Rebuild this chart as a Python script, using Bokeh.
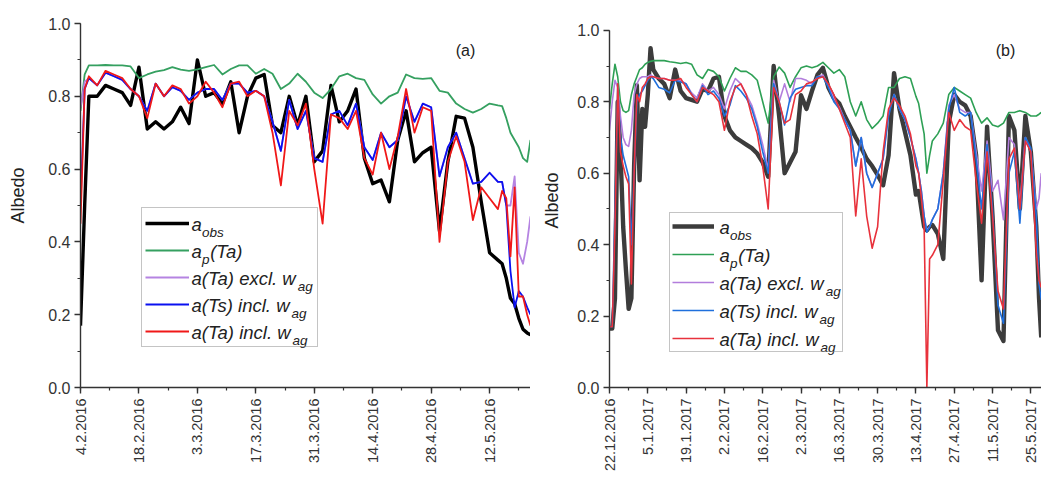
import math
from datetime import date
from bokeh.plotting import figure
from bokeh.layouts import row
from bokeh.models import (Range1d, FixedTicker, SingleIntervalTicker, PrintfTickFormatter,
                          Legend, LegendItem, Label)
from bokeh.embed import file_html
from bokeh.resources import INLINE

# ---------------- data: panel (a) ----------------
start_a = date(2016, 2, 4)
days_a = [0, 1, 2, 4, 6, 8, 10, 12, 14, 16, 18, 20, 22, 24, 26, 28, 30, 32, 34, 36, 38, 40,
          42, 44, 46, 48, 50, 52, 54, 56, 58, 60, 62, 64, 66, 68, 70, 72, 74, 76, 78, 80, 82,
          84, 86, 88, 90, 92, 94, 96, 98, 100, 101, 102, 103, 104, 105, 106, 107, 107.8]
obs_a = [0.17, 0.50, 0.80, 0.80, 0.83, 0.82, 0.81, 0.775, 0.88, 0.71, 0.73, 0.71, 0.73, 0.77,
         0.725, 0.90, 0.80, 0.81, 0.78, 0.84, 0.70, 0.80, 0.85, 0.86, 0.72, 0.70, 0.80, 0.72,
         0.80, 0.62, 0.65, 0.83, 0.73, 0.76, 0.82, 0.63, 0.56, 0.57, 0.51, 0.68, 0.76, 0.62,
         0.645, 0.66, 0.43, 0.62, 0.745, 0.74, 0.66, 0.51, 0.37, 0.35, 0.34, 0.30, 0.245, 0.23,
         0.19, 0.16, 0.15, 0.145]
ap_a = [0.76, 0.86, 0.885, 0.885, 0.886, 0.885, 0.885, 0.882, 0.85, 0.86, 0.868, 0.872, 0.88,
        0.873, 0.87, 0.874, 0.88, 0.886, 0.86, 0.875, 0.885, 0.885, 0.862, 0.875, 0.862, 0.82,
        0.835, 0.862, 0.84, 0.81, 0.795, 0.82, 0.855, 0.862, 0.85, 0.845, 0.805, 0.78, 0.80,
        0.81, 0.86, 0.85, 0.848, 0.85, 0.815, 0.81, 0.78, 0.765, 0.755, 0.765, 0.78, 0.775,
        0.773, 0.74, 0.70, 0.68, 0.66, 0.63, 0.62, 0.68]
excl_a = [0.77, 0.84, 0.85, 0.83, 0.865, 0.855, 0.845, 0.82, 0.80, 0.76, 0.835, 0.80, 0.825,
          0.815, 0.79, 0.81, 0.82, 0.82, 0.79, 0.835, 0.835, 0.81, 0.815, 0.80, 0.73, 0.65,
          0.79, 0.71, 0.76, 0.63, 0.62, 0.75, 0.76, 0.72, 0.78, 0.66, 0.625, 0.70, 0.66, 0.68,
          0.80, 0.73, 0.78, 0.77, 0.58, 0.66, 0.70, 0.63, 0.56, 0.565, 0.59, 0.565, 0.565, 0.50,
          0.50, 0.58, 0.37, 0.34, 0.40, 0.47]
ts_a = [0.50, 0.82, 0.85, 0.83, 0.865, 0.855, 0.845, 0.82, 0.80, 0.76, 0.835, 0.80, 0.825,
        0.815, 0.79, 0.81, 0.82, 0.82, 0.79, 0.835, 0.835, 0.81, 0.815, 0.80, 0.73, 0.65, 0.79,
        0.71, 0.76, 0.63, 0.62, 0.75, 0.76, 0.72, 0.78, 0.66, 0.625, 0.70, 0.66, 0.68, 0.80,
        0.73, 0.78, 0.77, 0.58, 0.66, 0.70, 0.63, 0.56, 0.565, 0.59, 0.565, 0.565, 0.50, 0.32,
        0.22, 0.265, 0.25, 0.22, 0.20]
ta_a = [0.45, 0.82, 0.855, 0.83, 0.87, 0.86, 0.85, 0.82, 0.80, 0.74, 0.835, 0.80, 0.83, 0.82,
        0.78, 0.80, 0.84, 0.81, 0.77, 0.835, 0.84, 0.80, 0.815, 0.80, 0.70, 0.555, 0.76, 0.72,
        0.78, 0.60, 0.45, 0.75, 0.74, 0.71, 0.76, 0.63, 0.585, 0.70, 0.60, 0.69, 0.82, 0.70,
        0.77, 0.76, 0.40, 0.62, 0.69, 0.62, 0.46, 0.55, 0.52, 0.49, 0.54, 0.52, 0.36, 0.55,
        0.25, 0.25, 0.20, 0.17]
ticks_a = ["4.2.2016", "18.2.2016", "3.3.2016", "17.3.2016", "31.3.2016", "14.4.2016",
           "28.4.2016", "12.5.2016"]

# ---------------- data: panel (b) ----------------
start_b = date(2016, 12, 22)
days_b = [0, 1, 2, 3, 4, 5, 6, 7, 8, 9, 10, 11, 12, 13, 14, 15, 16,
          18, 20, 22, 24, 26, 28, 30, 32, 34, 36, 38, 40, 42, 44, 46, 48, 50, 52, 54, 56, 58,
          60, 62, 64, 66, 68, 70, 72, 74, 76, 78, 80, 82, 84, 86, 88, 90, 92, 94, 96, 98, 100,
          102, 104, 106, 108, 110, 112, 113, 114, 115, 116, 117, 118,
          120, 122, 124, 126, 128, 130, 132, 134, 136, 138, 140, 142, 144, 146, 148, 150, 152,
          154, 156, 157, 157.8]
obs_b = [0.165, 0.165, 0.25, 0.80, 0.66, 0.45, 0.33, 0.22, 0.25, 0.62, 0.846, 0.58, 0.78, 0.73,
         0.82, 0.95, 0.89,
         0.865, 0.85, 0.81, 0.89, 0.83, 0.81, 0.805, 0.80, 0.835, 0.83, 0.865, 0.87, 0.76, 0.72,
         0.70, 0.69, 0.68, 0.67, 0.655, 0.63, 0.59, 0.90, 0.76, 0.60, 0.63, 0.66, 0.818, 0.78,
         0.83, 0.875, 0.895, 0.84, 0.81, 0.795, 0.76, 0.73, 0.70, 0.672, 0.64, 0.62, 0.595,
         0.566, 0.65, 0.88, 0.78, 0.715, 0.65, 0.54, 0.55, 0.50, 0.45, 0.44, 0.45, 0.455,
         0.43, 0.36, 0.74, 0.82, 0.80, 0.79, 0.76, 0.65, 0.30, 0.73, 0.48, 0.16, 0.13, 0.76,
         0.72, 0.50, 0.76, 0.66, 0.45, 0.25, 0.14]
ap_b = [0.78, 0.85, 0.905, 0.87, 0.80, 0.775, 0.77, 0.775, 0.82, 0.85, 0.87, 0.89, 0.895, 0.905,
        0.91, 0.913, 0.915,
        0.915, 0.915, 0.912, 0.91, 0.907, 0.91, 0.905, 0.875, 0.865, 0.89, 0.885, 0.87, 0.83,
        0.865, 0.895, 0.885, 0.885, 0.875, 0.86, 0.80, 0.74, 0.87, 0.897, 0.88, 0.84, 0.87,
        0.895, 0.90, 0.895, 0.90, 0.91, 0.895, 0.88, 0.89, 0.87, 0.80, 0.76, 0.80, 0.75, 0.725,
        0.74, 0.76, 0.84, 0.84, 0.865, 0.87, 0.865, 0.815, 0.795, 0.75, 0.71, 0.60, 0.65, 0.69,
        0.71, 0.74, 0.82, 0.84, 0.83, 0.82, 0.81, 0.77, 0.74, 0.755, 0.735, 0.73, 0.74, 0.77,
        0.77, 0.775, 0.77, 0.76, 0.76, 0.765, 0.77]
excl_b = [0.72, 0.80, 0.86, 0.84, 0.76, 0.70, 0.68, 0.675, 0.72, 0.82, 0.85, 0.865, 0.87, 0.87,
          0.87, 0.875, 0.87,
          0.865, 0.865, 0.86, 0.86, 0.86, 0.85, 0.825, 0.81, 0.85, 0.83, 0.84, 0.82, 0.78, 0.83,
          0.865, 0.85, 0.82, 0.79, 0.74, 0.68, 0.61, 0.86, 0.80, 0.85, 0.80, 0.865, 0.865, 0.86,
          0.85, 0.87, 0.875, 0.845, 0.81, 0.785, 0.75, 0.72, 0.62, 0.70, 0.60, 0.56, 0.60, 0.64,
          0.77, 0.82, 0.78, 0.75, 0.70, 0.64, 0.60, 0.55, 0.48, 0.44, 0.45, 0.47,
          0.50, 0.60, 0.79, 0.82, 0.78, 0.77, 0.77, 0.66, 0.55, 0.69, 0.55, 0.58, 0.47, 0.70,
          0.68, 0.51, 0.70, 0.66, 0.50, 0.53, 0.60]
ts_b = [0.17, 0.17, 0.50, 0.84, 0.70, 0.65, 0.62, 0.59, 0.40, 0.60, 0.80, 0.82, 0.83, 0.845,
        0.86, 0.87, 0.865,
        0.84, 0.835, 0.825, 0.86, 0.855, 0.85, 0.82, 0.80, 0.845, 0.82, 0.83, 0.81, 0.76, 0.79,
        0.845, 0.83, 0.81, 0.78, 0.73, 0.66, 0.60, 0.85, 0.80, 0.735, 0.81, 0.835, 0.84, 0.845,
        0.845, 0.87, 0.87, 0.84, 0.80, 0.78, 0.75, 0.72, 0.62, 0.70, 0.60, 0.56, 0.60, 0.64,
        0.76, 0.82, 0.78, 0.75, 0.70, 0.64, 0.60, 0.55, 0.48, 0.435, 0.45, 0.47,
        0.50, 0.60, 0.78, 0.84, 0.77, 0.76, 0.77, 0.64, 0.50, 0.68, 0.50, 0.23, 0.18, 0.60,
        0.66, 0.46, 0.70, 0.67, 0.48, 0.29, 0.245]
ta_b = [0.17, 0.17, 0.45, 0.85, 0.66, 0.62, 0.59, 0.57, 0.29, 0.60, 0.82, 0.80, 0.84, 0.85,
        0.865, 0.87, 0.87,
        0.865, 0.865, 0.86, 0.86, 0.865, 0.84, 0.82, 0.80, 0.84, 0.83, 0.82, 0.80, 0.72, 0.80,
        0.84, 0.85, 0.82, 0.76, 0.71, 0.62, 0.50, 0.84, 0.80, 0.74, 0.75, 0.82, 0.83, 0.85,
        0.855, 0.865, 0.87, 0.85, 0.82, 0.78, 0.74, 0.70, 0.48, 0.64, 0.48, 0.39, 0.45, 0.66,
        0.78, 0.81, 0.79, 0.76, 0.71, 0.62, 0.60, 0.53, 0.45, 0.0, 0.36, 0.37,
        0.40, 0.58, 0.77, 0.72, 0.75, 0.73, 0.72, 0.58, 0.46, 0.66, 0.48, 0.27, 0.22, 0.64,
        0.67, 0.50, 0.69, 0.66, 0.38, 0.30, 0.28]
ticks_b = ["22.12.2016", "5.1.2017", "19.1.2017", "2.2.2017", "16.2.2017", "2.3.2017",
           "16.3.2017", "30.3.2017", "13.4.2017", "27.4.2017", "11.5.2017", "25.5.2017"]

FONT = "Liberation Sans"
AXIS_COLOR = "#333333"
TEXT_COLOR = "#222222"
ARIAL_W = {" ": 278, "(": 333, ")": 333, ".": 278, "T": 611, "a": 556, "b": 556, "c": 500,
           "e": 556, "g": 556, "i": 222, "l": 222, "n": 556, "o": 556, "p": 556, "s": 500,
           "w": 722, "x": 500}


def text_w(s, size):
    return sum(ARIAL_W.get(c, 556) for c in s) * size / 1000.0


def day_of(label, start):
    d, m, y = (int(v) for v in label.split("."))
    return (date(y, m, d) - start).days


def make_panel(width, height, borders, x_end, y_end, start, tick_labels, title_sx, lift):
    left, right, top, bottom = borders
    p = figure(width=width, height=height, x_range=Range1d(0, x_end),
               y_range=Range1d(0, y_end), output_backend="svg", toolbar_location=None,
               min_border_left=left, min_border_right=right, min_border_top=top,
               min_border_bottom=bottom)
    p.outline_line_color = None
    p.xgrid.visible = False
    p.ygrid.visible = False
    p.background_fill_color = "white"
    p.border_fill_color = "white"

    major = [day_of(t, start) for t in tick_labels]
    minor = [m + 7 for m in major if m + 7 <= x_end] + major
    p.xaxis.ticker = FixedTicker(ticks=major, minor_ticks=sorted(minor))
    p.xaxis.major_label_overrides = {m: t for m, t in zip(major, tick_labels)}
    p.xaxis.major_label_orientation = math.pi / 2
    p.yaxis.ticker = SingleIntervalTicker(interval=0.2, num_minor_ticks=2)
    p.yaxis.formatter = PrintfTickFormatter(format="%.1f")
    p.yaxis.bounds = (0, 1)
    # leading no-break spaces nudge the rotated title slightly up the axis
    p.yaxis.axis_label = "\u00a0" * lift + "Albedo"
    p.yaxis.axis_label_text_font = FONT
    p.yaxis.axis_label_text_font_size = "18px"
    p.yaxis.axis_label_text_font_style = "normal"
    p.yaxis.axis_label_text_color = TEXT_COLOR
    p.yaxis.axis_label_standoff = title_sx
    for ax in (p.xaxis[0], p.yaxis[0]):
        ax.axis_line_color = AXIS_COLOR
        ax.axis_line_width = 1.4
        ax.major_tick_line_color = AXIS_COLOR
        ax.minor_tick_line_color = AXIS_COLOR
        ax.major_tick_line_width = 1.4
        ax.minor_tick_line_width = 1.2
        ax.major_tick_out = 6
        ax.major_tick_in = 0
        ax.minor_tick_out = 3
        ax.minor_tick_in = 0
        ax.major_label_text_font = FONT
        ax.major_label_text_color = "#333333"
    p.yaxis.major_label_text_font_size = "16px"
    p.xaxis.major_label_text_font_size = "14.5px"
    p.yaxis.major_label_standoff = 4
    p.xaxis.major_label_standoff = 5
    return p


def add_series(p, days, series, styles):
    rs = []
    for ys, (color, w) in zip(series, styles):
        rs.append(p.line(days, ys, line_color=color, line_width=w, line_join="round"))
    return rs


LEG_PARTS = [
    [("a", False), ("obs", True)],
    [("a", False), ("p", True), ("(Ta)", False)],
    [("a(Ta) excl. w", False), ("ag", True)],
    [("a(Ts) incl. w", False), ("ag", True)],
    [("a(Ta) incl. w", False), ("ag", True)],
]


def add_legend(p, renderers, loc, pad, gh, sp, glyph_w, standoff, label_w, text_x, first_sy):
    items = [LegendItem(label=" ", renderers=[r]) for r in renderers]
    leg = Legend(items=items, location=loc, padding=pad, spacing=sp, glyph_width=glyph_w,
                 glyph_height=gh, label_height=gh, label_width=label_w,
                 label_standoff=standoff, label_text_font_size="1px",
                 border_line_color="#8a8a8a", border_line_width=1,
                 background_fill_alpha=0.0, margin=0)
    p.add_layout(leg)
    main, sub = 18.5, 13.5
    step = gh + sp
    for k, parts in enumerate(LEG_PARTS):
        sy = first_sy - step * k            # row centre, pixels above the frame bottom
        cx = text_x
        for txt, is_sub in parts:
            size = sub if is_sub else main
            p.add_layout(Label(x=cx, y=sy - (8 if is_sub else 0), x_units="screen",
                               y_units="screen", text=txt, text_font=FONT,
                               text_font_style="italic", text_font_size=f"{size}px",
                               text_color=TEXT_COLOR, text_baseline="middle",
                               text_align="left", level="overlay"))
            cx += text_w(txt, size) + (0.6 if is_sub else 0.3)


H = 483
BORDER_TOP, BORDER_BOTTOM = 23, 96

# ---------------- panel (a) ----------------
pa = make_panel(530, H, (80, 0, BORDER_TOP, BORDER_BOTTOM), 107.8, 1.0, start_a, ticks_a,
                17, 4)
ra = add_series(pa, days_a, [obs_a, ap_a, excl_a, ts_a, ta_a],
                [("#000000", 3.4), ("#35a060", 1.8), ("#b584e2", 1.8), ("#0a10f0", 1.8),
                 ("#f01818", 1.8)])
add_legend(pa, ra, (61, 40), 3, 24, 3, 44, 3, 122, 111, 163)
pa.add_layout(Label(x=385, y=337, x_units="screen", y_units="screen", text="(a)",
                    text_font=FONT, text_font_size="16px", text_color=TEXT_COLOR,
                    text_align="center", text_baseline="middle", level="overlay"))

# ---------------- panel (b) ----------------
pb = make_panel(511, H, (79, 0, BORDER_TOP, BORDER_BOTTOM), 157.9, 1.019, start_b, ticks_b,
                12, 2)
rb = add_series(pb, days_b, [obs_b, ap_b, excl_b, ts_b, ta_b],
                [("#3c3c3c", 4.4), ("#2ea055", 1.6), ("#b27ddc", 1.6), ("#1f6fdc", 1.6),
                 ("#e8323c", 1.6)])
add_legend(pb, rb, (60, 35), 2, 22, 6, 42, 6, 120, 110, 160)
pb.add_layout(Label(x=396, y=337, x_units="screen", y_units="screen", text="(b)",
                    text_font=FONT, text_font_size="16px", text_color=TEXT_COLOR,
                    text_align="center", text_baseline="middle", level="overlay"))

layout = row(pa, pb)
open("out.html", "w").write(file_html(layout, INLINE))
